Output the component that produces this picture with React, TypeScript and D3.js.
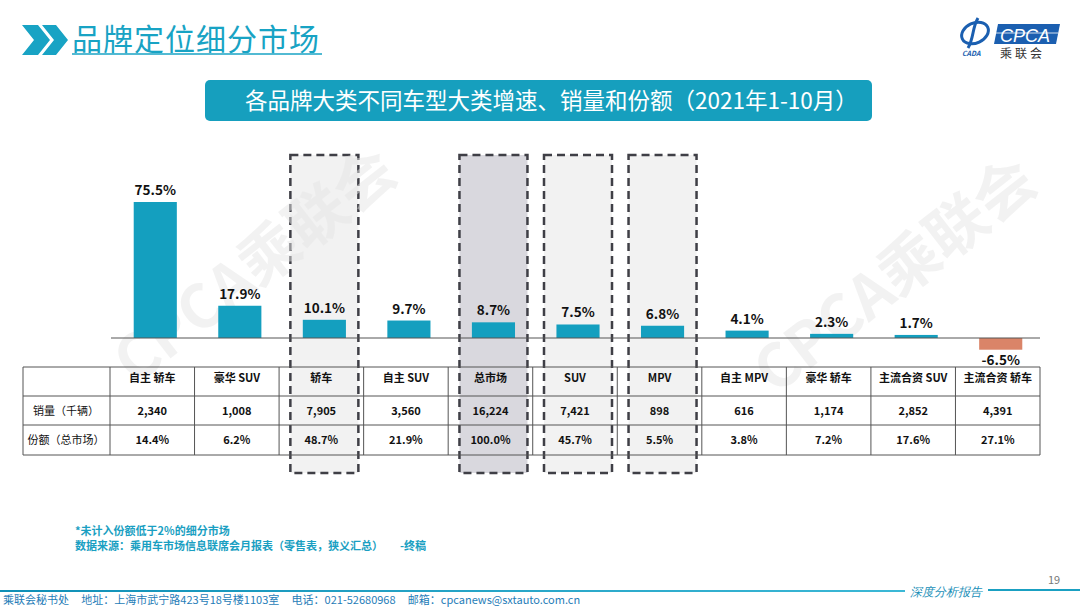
import React from "react";
import * as d3 from "d3";

// 车型类别
const categories = ["自主 轿车", "豪华 SUV", "轿车", "自主 SUV", "总市场", "SUV", "MPV", "自主 MPV", "豪华 轿车", "主流合资 SUV", "主流合资 轿车"];
// 增速 %
const growth = [75.5, 17.9, 10.1, 9.7, 8.7, 7.5, 6.8, 4.1, 2.3, 1.7, -6.5];
// 销量（千辆）
const sales = ["2,340", "1,008", "7,905", "3,560", "16,224", "7,421", "898", "616", "1,174", "2,852", "4,391"];
// 份额
const shares = ["14.4%", "6.2%", "48.7%", "21.9%", "100.0%", "45.7%", "5.5%", "3.8%", "7.2%", "17.6%", "27.1%"];
const rowLabels = ["销量（千辆）", "份额（总市场）"];
// 虚线框高亮
const highlighted = ["轿车", "总市场", "SUV", "MPV"];

const W = 1080;
const H = 608;
const FONT = "'Noto Sans CJK SC', 'Noto Sans', sans-serif";
const TEAL = "#18a3c4";

export default function App() {
  const x = d3.scaleBand<string>().domain(categories).range([113, 1043]).paddingInner(0.49).paddingOuter(0.245);
  const col = d3.scaleBand<string>().domain(categories).range([110, 1040]);
  const y = d3.scaleLinear().domain([0, 75.5]).range([338, 202]);
  const rowY = [367, 396, 425, 455];

  return (
    <div style={{ position: "absolute", left: 0, top: 0 }}>
      <svg width={W} height={H} style={{ display: "block", fontFamily: FONT }}>
        <rect width={W} height={H} fill="#fff" />

        {/* highlight boxes */}
        {highlighted.map((c) => {
          const cx = (x(c) as number) + x.bandwidth() / 2;
          return (
            <rect key={c} x={cx - 34} y={155} width={68} height={318}
              fill={c === "总市场" ? "#d9d8de" : "#f2f2f2"} stroke="#3f3f46" strokeWidth={2.5} strokeDasharray="8 5" />
          );
        })}

        {/* watermarks */}
        {[[268, 282], [908, 292]].map(([cx, cy], i) => (
          <text key={i} x={cx} y={cy} transform={`rotate(-38 ${cx} ${cy})`} textAnchor="middle"
            fontSize={60} fontWeight={700} fill="#e6e6e6" opacity={0.5}>CPCA乘联会</text>
        ))}

        {/* header */}
        <path d="M22,25 L38,25 L50,40 L38,55 L22,55 L34,40 Z" fill={TEAL} />
        <path d="M42,25 L56,25 L68,40 L56,55 L42,55 L54,40 Z" fill={TEAL} />
        <text x={72} y={50} fontSize={30} fill={TEAL} letterSpacing={1}>品牌定位细分市场</text>
        <line x1={72} y1={54} x2={322} y2={54} stroke={TEAL} strokeWidth={1.5} />

        {/* logo */}
        <g>
          <ellipse cx={975} cy={33} rx={14} ry={10} fill="none" stroke="#1b5fb0" strokeWidth={3} transform="rotate(-25 975 33)" />
          <path d="M978,18 C972,28 974,38 968,48" stroke="#1b5fb0" strokeWidth={3} fill="none" />
          <text x={962} y={56} fontSize={7} fontStyle="italic" fontWeight={700} fill="#1b5fb0">CADA</text>
          <path d="M998,24 L1060,24 L1056,44 L994,44 Z" fill="#1b5fb0" />
          <line x1={996} y1={33} x2={1058} y2={33} stroke="#fff" strokeWidth={0.8} />
          <text x={1000} y={42} fontSize={18} fontStyle="italic" fill="#fff" fontFamily="'Liberation Sans', sans-serif">CPCA</text>
          <text x={1000} y={58} fontSize={12} fill="#333" letterSpacing={3}>乘联会</text>
        </g>

        {/* title box */}
        <rect x={205} y={80} width={667} height={41} rx={5} fill="#169fbe" />
        <text x={245} y={109} fontSize={22.5} fill="#fff">各品牌大类不同车型大类增速、销量和份额（2021年1-10月）</text>

        {/* bars */}
        {categories.map((c, i) => {
          const v = growth[i];
          const top = Math.min(y(v), y(0));
          const h = Math.abs(y(v) - y(0));
          return (
            <g key={c}>
              <rect x={x(c)} y={top} width={x.bandwidth()} height={h} fill={v < 0 ? "#da8468" : "#149fbf"} />
              <text x={(x(c) as number) + x.bandwidth() / 2} y={v < 0 ? y(v) + 15 : y(v) - 7}
                textAnchor="middle" fontSize={13.5} fontWeight={700} fill="#111">{v.toFixed(1)}%</text>
            </g>
          );
        })}
        <line x1={111} y1={y(0)} x2={1040} y2={y(0)} stroke="#555" strokeWidth={1} />

        {/* table */}
        <g fontSize={11} fill="#111">
          {rowY.map((ry) => (
            <line key={ry} x1={23} y1={ry} x2={1040} y2={ry} stroke="#555" strokeWidth={1} />
          ))}
          {[23, ...categories.map((c) => col(c) as number), 1040].map((lx, i) => (
            <line key={i} x1={lx} y1={rowY[0]} x2={lx} y2={rowY[3]} stroke="#555" strokeWidth={1} />
          ))}
          {rowLabels.map((l, r) => (
            <text key={l} x={66} y={(rowY[r + 1] + rowY[r + 2]) / 2 + 4} textAnchor="middle">{l}</text>
          ))}
          {categories.map((c, i) => {
            const cx = (col(c) as number) + col.bandwidth() / 2;
            return (
              <g key={c} fontWeight={700} textAnchor="middle">
                <text x={cx} y={382}>{c}</text>
                <text x={cx} y={(rowY[1] + rowY[2]) / 2 + 4}>{sales[i]}</text>
                <text x={cx} y={(rowY[2] + rowY[3]) / 2 + 4}>{shares[i]}</text>
              </g>
            );
          })}
        </g>

        {/* notes */}
        <g fontSize={11} fontWeight={700} fill="#1a9fc2">
          <text x={75} y={535}>*未计入份额低于2%的细分市场</text>
          <text x={75} y={550}>数据来源：乘用车市场信息联席会月报表（零售表，狭义汇总）</text>
          <text x={400} y={550}>-终稿</text>
        </g>

        {/* footer */}
        <defs>
          <linearGradient id="fl" x1="0" x2="1">
            <stop offset="0" stopColor="#0f8fb6" />
            <stop offset="1" stopColor="#3bb8d6" />
          </linearGradient>
        </defs>
        <rect x={0} y={590} width={905} height={2} fill="url(#fl)" />
        <rect x={988} y={589} width={92} height={2} fill="#1aa0c2" />
        <text x={910} y={596} fontSize={12} fontStyle="italic" fontFamily="'DejaVu Serif', serif" fill="#1a8fb8">深度分析报告</text>
        <text x={1048} y={584} fontSize={11} fill="#777">19</text>
        <text x={3} y={604} fontSize={11} fill="#1f7db8" style={{ whiteSpace: "pre" }}>乘联会秘书处     地址：上海市武宁路423号18号楼1103室     电话：021-52680968     邮箱：cpcanews@sxtauto.com.cn</text>
      </svg>
    </div>
  );
}
